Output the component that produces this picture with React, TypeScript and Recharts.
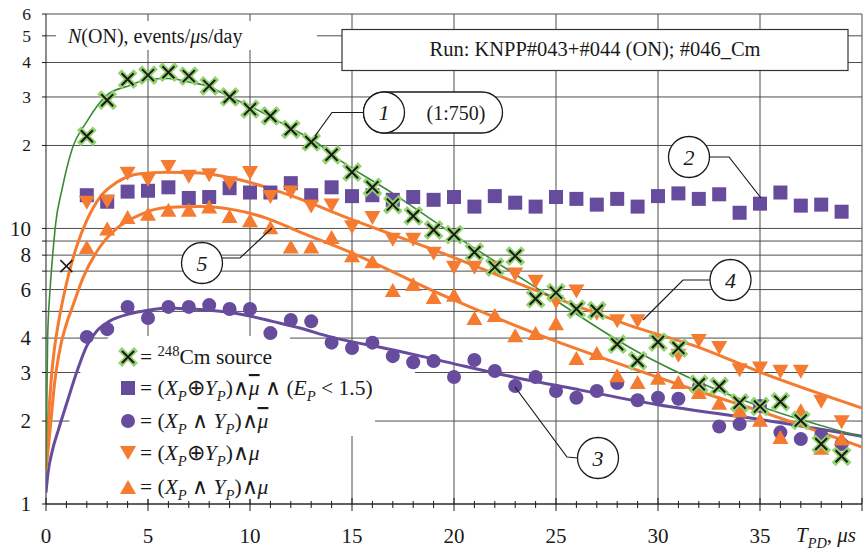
import React from 'react';
import { ComposedChart, Line, Scatter, XAxis, YAxis, CartesianGrid } from 'recharts';

// --- look ---
const SERIF = '"Liberation Serif", "Times New Roman", serif';
const INK = '#1a1a1a';
const PURPLE = '#674b9c';
const ORANGE = '#f47b2f';
const HALO = '#92d16e';
const GREEN = '#3a8a35';
const GRID = '#4d4d4d';

// --- axes ---
const xTicks = [0, 1, 2, 3, 4, 5, 6, 7, 8, 9, 10, 11, 12, 13, 14, 15, 16, 17, 18, 19, 20,
  21, 22, 23, 24, 25, 26, 27, 28, 29, 30, 31, 32, 33, 34, 35, 36, 37, 38, 39, 40];
const xGrid = [5, 10, 15, 20, 25, 30, 35, 40];
const yTicks = [1, 2, 3, 4, 5, 6, 7, 8, 9, 10, 20, 30, 40, 50, 60];
const yTickLabels = ['1', '2', '3', '4', '', '6', '', '8', '', '10', '2', '3', '4', '5', '6'];

// --- measured points, one per microsecond bin ---
const bins = [2, 3, 4, 5, 6, 7, 8, 9, 10, 11, 12, 13, 14, 15, 16, 17, 18, 19, 20,
  21, 22, 23, 24, 25, 26, 27, 28, 29, 30, 31, 32, 33, 34, 35, 36, 37, 38, 39];

// 1: 248Cm source (1:750)
const cmSource = [21.6, 29.2, 34.8, 36.0, 36.9, 35.7, 32.9, 30.0, 27.1, 25.6, 22.9, 20.6, 18.5,
  16.0, 14.1, 12.2, 11.1, 9.87, 9.5, 8.2, 7.24, 7.94, 5.56, 5.85, 5.1, 5.03, 3.8, 3.31, 3.87,
  3.68, 2.72, 2.67, 2.33, 2.26, 2.35, 2.01, 1.65, 1.49];
const cmFirstBin: [number, number][] = [[1, 7.3]];
// 2: (Xp xor Yp) & !mu & (Ep < 1.5)
const xorNoMuLowE = [13.2, 12.5, 13.6, 13.7, 14.1, 12.9, 13.0, 14.0, 13.5, 13.5, 14.6, 13.2, 14.1,
  13.1, 13.2, 12.7, 13.0, 12.7, 13.0, 12.0, 13.1, 12.4, 12.0, 13.0, 12.8, 12.2, 12.8, 12.0, 13.1,
  13.4, 12.8, 13.3, 11.4, 12.3, 13.5, 12.1, 12.2, 11.5];
// 3: (Xp and Yp) & !mu
const andNoMu = [4.04, 4.31, 5.19, 4.73, 5.19, 5.19, 5.27, 5.1, 5.1, 4.17, 4.65, 4.6, 3.85, 3.68,
  3.85, 3.44, 3.27, 3.3, 2.89, 3.33, 3.04, 2.68, 2.89, 2.57, 2.43, 2.57, 2.75, 2.38, 2.43, 2.41,
  2.66, 1.91, 1.95, 2.27, 1.82, 1.72, 1.78, 1.65];
// 4: (Xp xor Yp) & mu
const xorMu = [12.4, 12.5, 15.8, 15.0, 16.7, 15.4, 15.6, 14.6, 15.9, 13.0, 13.5, 12.0, 12.1, 10.1,
  10.9, 9.1, 9.1, 8.1, 7.2, 7.2, 7.2, 6.8, 6.4, 5.4, 5.9, 4.9, 4.6, 4.6, 3.9, 3.45, 3.9, 3.68,
  3.06, 3.1, 3.02, 3.02, 2.35, 1.98];
// 5: (Xp and Yp) & mu
const andMu = [8.56, 10.0, 11.0, 11.3, 11.7, 11.7, 12.0, 11.1, 10.7, 10.1, 8.6, 8.6, 9.3, 8.0,
  7.6, 5.98, 6.28, 5.64, 5.74, 4.73, 4.85, 4.1, 4.17, 4.53, 3.39, 3.53, 2.93, 2.77, 2.87, 2.77,
  2.55, 2.33, 2.19, 2.02, 1.75, 2.19, 1.6, 1.73];

// --- fitted curves ---
const cmFit: [number, number][] = [[0, 1.33], [0.08, 4], [0.2, 6], [0.34, 8.2], [0.48, 10.5],
  [0.78, 13.8], [1.27, 19.3], [2, 24.4], [3, 30.5], [4.1, 33], [5, 34.8], [6, 35], [7, 34],
  [8, 32.7], [9, 30], [10, 27.8], [11, 25.4], [12, 23.1], [13.1, 20.9], [14.4, 17.7], [17, 13.4],
  [19.8, 9.7], [24.2, 5.98], [29.1, 3.53], [32.1, 2.75], [35.1, 2.25], [40, 1.75]];
const andNoMuFit: [number, number][] = [[0, 1.1], [0.1, 1.3], [0.3, 1.55], [0.6, 1.85],
  [1, 2.3], [1.5, 3.0], [2, 3.75], [2.5, 4.25], [3.1, 4.6], [4.1, 4.9], [5, 5.05], [6.1, 5.14],
  [7.05, 5.1], [8.05, 5.05], [9.2, 4.93], [10.05, 4.8], [11.1, 4.6], [12.45, 4.35], [13.9, 4.05],
  [17.2, 3.6], [19.6, 3.28], [22.9, 2.89], [26.2, 2.59], [30, 2.29], [35.1, 2.02], [40, 1.76]];
const xorMuFit: [number, number][] = [[0, 1.33], [0.1, 1.9], [0.25, 2.8], [0.4, 3.6], [0.6, 4.5],
  [1, 6.3], [1.5, 8.6], [2, 10.7], [2.65, 13.0], [3.47, 14.7], [4.6, 15.8], [5.9, 16.0],
  [7.55, 15.9], [9.17, 15.2], [10.8, 14.1], [12.45, 12.8], [14.4, 11.2], [19.5, 8.1],
  [24.2, 5.89], [28.6, 4.45], [32.1, 3.68], [35.1, 2.99], [40, 2.23]];
const andMuFit: [number, number][] = [[0, 1.33], [0.2, 1.86], [0.44, 2.82], [0.7, 3.7], [1, 4.5],
  [1.26, 5.1], [1.83, 6.66], [2.65, 8.58], [3.47, 10.0], [4.6, 11.2], [5.9, 11.9], [7.55, 12.0],
  [9.17, 11.7], [10.8, 10.9], [12.45, 9.7], [14.9, 8.2], [19.5, 5.7], [24.2, 4.1], [28.6, 3.13],
  [32.1, 2.55], [35.1, 2.16], [40, 1.61]];

const toPoints = (ys: number[]) => bins.map((x, i) => ({ x, y: ys[i] }));
const pairPoints = (p: [number, number][]) => p.map(([x, y]) => ({ x, y }));

// --- marker shapes ---
const crossPath = (cx: number, cy: number, r: number) =>
  `M${cx - r},${cy - r}L${cx + r},${cy + r}M${cx - r},${cy + r}L${cx + r},${cy - r}`;

const CrossMark = ({ cx, cy }: any) => (
  <g>
    <path d={crossPath(cx, cy, 6)} stroke={HALO} strokeWidth={5.5} strokeLinecap="square" />
    <path d={crossPath(cx, cy, 6)} stroke={INK} strokeWidth={2} />
  </g>
);
const PlainCross = ({ cx, cy }: any) => (
  <path d={crossPath(cx, cy, 6)} stroke={INK} strokeWidth={1.5} />
);
const SquareMark = ({ cx, cy }: any) => (
  <rect x={cx - 7} y={cy - 7} width={14} height={14} fill={PURPLE} />
);
const CircleMark = ({ cx, cy }: any) => <circle cx={cx} cy={cy} r={7} fill={PURPLE} />;
const DownMark = ({ cx, cy }: any) => (
  <path d={`M${cx - 8},${cy - 7}L${cx + 8},${cy - 7}L${cx},${cy + 7}Z`} fill={ORANGE} />
);
const UpMark = ({ cx, cy }: any) => (
  <path d={`M${cx - 8},${cy + 7}L${cx + 8},${cy + 7}L${cx},${cy - 7}Z`} fill={ORANGE} />
);

// --- axis ticks ---
const XTick = ({ x, y, payload }: any) => {
  const v = payload.value;
  const major = v % 5 === 0;
  return (
    <g>
      <line x1={x} x2={x} y1={major ? y - 6 : y - 3} y2={major ? y + 7 : y + 4} stroke={INK} />
      {major && v < 40 && (
        <text x={x} y={y + 39} textAnchor="middle" fontSize={21} fontFamily={SERIF} fill={INK}>
          {v}
        </text>
      )}
    </g>
  );
};

const YTick = ({ x, y, payload }: any) => {
  const label = yTickLabels[yTicks.indexOf(payload.value)];
  if (!label) return <g />;
  const size = payload.value >= 20 ? 17.5 : 21;
  return (
    <text x={x} y={y + size * 0.34} textAnchor="end" fontSize={size} fontFamily={SERIF} fill={INK}>
      {label}
    </text>
  );
};

// --- rich text: italic, sub/superscript, overline ---
type Seg = { t: string; it?: boolean; sub?: boolean; sup?: boolean; over?: boolean };

const Rich = ({ x, y, segs, size, anchor }: { x: number; y: number; segs: Seg[]; size: number; anchor?: string }) => {
  let shift = 0;
  return (
    <text x={x} y={y} fontSize={size} fontFamily={SERIF} fill={INK} textAnchor={anchor}>
      {segs.map((s, i) => {
        const target = s.sub ? size * 0.28 : s.sup ? -size * 0.38 : 0;
        const dy = target - shift;
        shift = target;
        return (
          <tspan
            key={i}
            dy={dy}
            fontStyle={s.it ? 'italic' : undefined}
            fontSize={s.sub || s.sup ? size * 0.68 : undefined}
            style={s.over ? { textDecoration: 'overline' } : undefined}
          >
            {s.t}
          </tspan>
        );
      })}
    </text>
  );
};

const legendRows: { y: number; mark: (p: any) => React.ReactElement; segs: Seg[] }[] = [
  { y: 357, mark: CrossMark, segs: [{ t: '= ' }, { t: '248', sup: true }, { t: 'Cm source' }] },
  {
    y: 388, mark: SquareMark,
    segs: [{ t: '= (' }, { t: 'X', it: true }, { t: 'P', it: true, sub: true }, { t: '\u2295' },
      { t: 'Y', it: true }, { t: 'P', it: true, sub: true }, { t: ')\u2227' }, { t: '\u03bc', it: true, over: true },
      { t: ' \u2227 (' }, { t: 'E', it: true }, { t: 'P', it: true, sub: true }, { t: ' < 1.5)' }],
  },
  {
    y: 421, mark: CircleMark,
    segs: [{ t: '= (' }, { t: 'X', it: true }, { t: 'P', it: true, sub: true }, { t: ' \u2227 ' },
      { t: 'Y', it: true }, { t: 'P', it: true, sub: true }, { t: ')\u2227' }, { t: '\u03bc', it: true, over: true }],
  },
  {
    y: 453, mark: DownMark,
    segs: [{ t: '= (' }, { t: 'X', it: true }, { t: 'P', it: true, sub: true }, { t: '\u2295' },
      { t: 'Y', it: true }, { t: 'P', it: true, sub: true }, { t: ')\u2227' }, { t: '\u03bc', it: true }],
  },
  {
    y: 487, mark: UpMark,
    segs: [{ t: '= (' }, { t: 'X', it: true }, { t: 'P', it: true, sub: true }, { t: ' \u2227 ' },
      { t: 'Y', it: true }, { t: 'P', it: true, sub: true }, { t: ')\u2227' }, { t: '\u03bc', it: true }],
  },
];

// numbered callouts: circle centre and leader path
const callouts = [
  { n: '1', cx: 384, cy: 112.5, leader: '363,112.5 332,112.5 315,136' },
  { n: '2', cx: 689, cy: 157, leader: '709,157 729,157 761,198' },
  { n: '3', cx: 598, cy: 458, leader: '578,458 567,457 515,387' },
  { n: '4', cx: 730.5, cy: 280, leader: '710,280 683,280 643,320' },
  { n: '5', cx: 202, cy: 263, leader: '222,258 240,258 272,228' },
];

const W = 866;
const H = 554;
const layer: React.CSSProperties = { position: 'absolute', left: 0, top: 0 };

export default function App() {
  return (
    <div style={{ position: 'absolute', left: 0, top: 0, width: W, height: H, background: '#fff', overflow: 'hidden' }}>
      {/* grid and axes */}
      <div style={layer}>
        <ComposedChart width={W} height={H} margin={{ top: 14, right: 4, bottom: 0, left: 0 }}>
          <CartesianGrid stroke={GRID} horizontalValues={yTicks} verticalValues={xGrid} />
          <XAxis
            type="number"
            dataKey="x"
            domain={[0, 40]}
            ticks={xTicks}
            interval={0}
            allowDataOverflow
            height={50}
            tickSize={0}
            tickMargin={0}
            tickLine={false}
            axisLine={{ stroke: INK }}
            tick={XTick}
          />
          <YAxis
            type="number"
            dataKey="y"
            scale="log"
            domain={[1, 60]}
            ticks={yTicks}
            interval={0}
            allowDataOverflow
            width={46}
            tickSize={4}
            tickMargin={11}
            tickLine={{ stroke: INK }}
            axisLine={{ stroke: INK }}
            tick={YTick}
          />
          <Line data={pairPoints(cmFit)} dataKey="y" stroke="transparent" dot={false} activeDot={false} isAnimationActive={false} />
        </ComposedChart>
      </div>

      {/* legend and label backgrounds, under the data */}
      <svg style={layer} width={W} height={H}>
        <polygon
          points="110,336 290,336 290,342 415,342 415,399 375,399 375,436 345,436 345,499 59,499 61,470 69,423 80,373 95,352"
          fill="#fff"
        />
        <rect x={56} y={21} width={261} height={29} fill="#fff" />
        {legendRows.map((r, i) => (
          <g key={i}>
            {r.mark({ cx: 128, cy: r.y })}
            <Rich x={140} y={r.y + 7} size={21.5} segs={r.segs} />
          </g>
        ))}
      </svg>

      {/* data */}
      <div style={layer}>
        <ComposedChart width={W} height={H} margin={{ top: 14, right: 4, bottom: 50, left: 46 }}>
          <XAxis type="number" dataKey="x" domain={[0, 40]} allowDataOverflow hide />
          <YAxis type="number" dataKey="y" scale="log" domain={[1, 60]} allowDataOverflow hide />
          <Scatter data={toPoints(xorNoMuLowE)} dataKey="y" shape={SquareMark} isAnimationActive={false} />
          <Scatter data={toPoints(andNoMu)} dataKey="y" shape={CircleMark} isAnimationActive={false} />
          <Line data={pairPoints(andNoMuFit)} dataKey="y" type="monotone" stroke={PURPLE} strokeWidth={3} dot={false} activeDot={false} isAnimationActive={false} />
          <Scatter data={toPoints(andMu)} dataKey="y" shape={UpMark} isAnimationActive={false} />
          <Line data={pairPoints(andMuFit)} dataKey="y" type="monotone" stroke={ORANGE} strokeWidth={3} dot={false} activeDot={false} isAnimationActive={false} />
          <Scatter data={toPoints(xorMu)} dataKey="y" shape={DownMark} isAnimationActive={false} />
          <Line data={pairPoints(xorMuFit)} dataKey="y" type="monotone" stroke={ORANGE} strokeWidth={3} dot={false} activeDot={false} isAnimationActive={false} />
          <Scatter data={toPoints(cmSource)} dataKey="y" shape={CrossMark} isAnimationActive={false} />
          <Scatter data={pairPoints(cmFirstBin)} dataKey="y" shape={PlainCross} isAnimationActive={false} />
          <Line data={pairPoints(cmFit)} dataKey="y" type="monotone" stroke={GREEN} strokeWidth={1.6} dot={false} activeDot={false} isAnimationActive={false} />
        </ComposedChart>
      </div>

      {/* titles and callouts */}
      <svg style={layer} width={W} height={H}>
        <Rich
          x={68}
          y={43}
          size={20}
          segs={[{ t: 'N', it: true }, { t: '(ON), events/' }, { t: '\u03bc', it: true }, { t: 's/day' }]}
        />
        <rect x={342} y={29.5} width={506} height={41} fill="#fff" stroke="#333" strokeWidth={1.2} />
        <text x={595} y={56} textAnchor="middle" fontSize={20.5} fontFamily={SERIF} fill={INK}>
          Run: KNPP#043+#044 (ON); #046_Cm
        </text>

        <rect x={363.5} y={92} width={139} height={41} rx={20.5} fill="#fff" stroke={INK} strokeWidth={1.3} />
        <text x={456} y={119.5} textAnchor="middle" fontSize={20} fontFamily={SERIF} fill={INK}>
          (1:750)
        </text>
        {callouts.map((c) => (
          <g key={c.n}>
            <polyline points={c.leader} fill="none" stroke={INK} strokeWidth={1.2} />
            <circle cx={c.cx} cy={c.cy} r={20.5} fill="#fff" stroke={INK} strokeWidth={1.3} />
            <text x={c.cx} y={c.cy + 7.5} textAnchor="middle" fontSize={22} fontStyle="italic" fontFamily={SERIF} fill={INK}>
              {c.n}
            </text>
          </g>
        ))}

        <Rich
          x={796}
          y={542}
          size={21}
          segs={[{ t: 'T', it: true }, { t: 'PD', it: true, sub: true }, { t: ', ' }, { t: '\u03bcs', it: true }]}
        />
      </svg>
    </div>
  );
}
